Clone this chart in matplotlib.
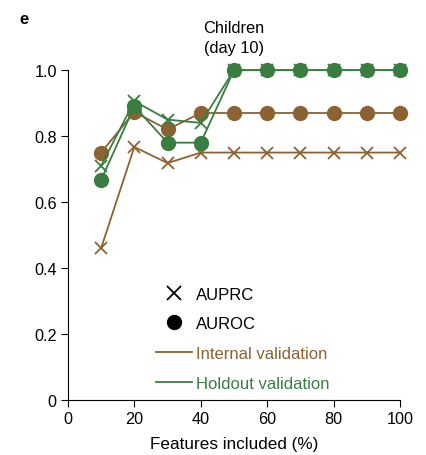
import numpy as np
import matplotlib.pyplot as plt
from matplotlib.lines import Line2D

plt.rcParams['font.family'] = ['Liberation Sans', 'DejaVu Sans']
plt.rcParams['font.size'] = 12

# features included (%)
features = [10, 20, 30, 40, 50, 60, 70, 80, 90, 100]

# internal validation
internal_auprc = [0.46, 0.767, 0.718, 0.75, 0.75, 0.75, 0.75, 0.75, 0.75, 0.75]
internal_auroc = [0.75, 0.873, 0.82, 0.87, 0.87, 0.87, 0.87, 0.87, 0.87, 0.87]

# holdout validation
holdout_auprc = [0.71, 0.906, 0.85, 0.84, 1.0, 1.0, 1.0, 1.0, 1.0, 1.0]
holdout_auroc = [0.667, 0.89, 0.78, 0.78, 1.0, 1.0, 1.0, 1.0, 1.0, 1.0]

brown = '#8c6232'
green = '#3a7d41'

fig = plt.figure(figsize=(4.27, 4.56), dpi=100)
ax = fig.add_axes([0.159, 0.121, 0.778, 0.723])

ax.plot(features, internal_auprc, color=brown, lw=1.3, marker='x', ms=9,
        mew=1.3, clip_on=False, zorder=3)
ax.plot(features, internal_auroc, color=brown, lw=1.3, marker='o', ms=10,
        clip_on=False, zorder=3)
ax.plot(features, holdout_auprc, color=green, lw=1.3, marker='x', ms=9,
        mew=1.3, clip_on=False, zorder=4)
ax.plot(features, holdout_auroc, color=green, lw=1.3, marker='o', ms=10,
        clip_on=False, zorder=4)

ax.set_xlim(0, 100)
ax.set_ylim(0, 1.0)
ax.set_xticks([0, 20, 40, 60, 80, 100])
ax.set_yticks([0, 0.2, 0.4, 0.6, 0.8, 1.0])
ax.set_yticklabels(['0', '0.2', '0.4', '0.6', '0.8', '1.0'])
ax.spines['top'].set_visible(False)
ax.spines['right'].set_visible(False)
ax.tick_params(direction='out', length=5, width=0.8, labelsize=11.7, pad=3)
ax.set_xlabel('Features included (%)', fontsize=12.3, labelpad=7)
ax.set_title('Children\n(day 10)', fontsize=11.8, pad=13, linespacing=1.45)

fig.text(0.045, 0.957, 'e', fontsize=12, fontweight='bold', va='center')

handles = [
    Line2D([], [], color='black', ls='none', marker='x', ms=10, mew=1.3),
    Line2D([], [], color='black', ls='none', marker='o', ms=10),
    Line2D([], [], color=brown, lw=1.3),
    Line2D([], [], color=green, lw=1.3),
]
labels = ['AUPRC', 'AUROC', 'Internal validation', 'Holdout validation']
leg = ax.legend(handles, labels, loc='lower left', bbox_to_anchor=(0.237, 0.0),
                frameon=False, fontsize=12, handlelength=2.2, handletextpad=0.2,
                labelspacing=0.88, borderpad=0.05,
                labelcolor=['black', 'black', brown, green])

fig.savefig('out.png', dpi=100)
